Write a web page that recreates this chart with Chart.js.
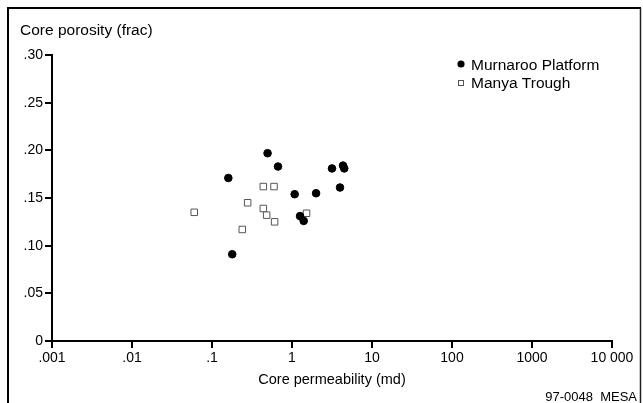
<!DOCTYPE html>
<html>
<head>
<meta charset="utf-8">
<script src="https://cdn.jsdelivr.net/npm/chart.js@4/dist/chart.umd.min.js"></script>
<style>
  html, body { margin: 0; padding: 0; background: #fff; }
  #wrap { width: 643px; height: 403px; }
</style>
</head>
<body>
<div id="wrap"><canvas id="poroPerm" width="643" height="403"></canvas></div>
<script>
// values
const murnarooPerm = [0.16, 0.179, 0.495, 0.668, 1.08, 1.26, 1.40, 2.0, 3.16, 3.98, 4.34, 4.5];
const murnarooPoro = [0.171, 0.091, 0.197, 0.183, 0.154, 0.131, 0.126, 0.155, 0.181, 0.161, 0.184, 0.181];
const manyaPerm = [0.06, 0.239, 0.279, 0.438, 0.438, 0.482, 0.596, 0.606, 1.52];
const manyaPoro = [0.135, 0.117, 0.145, 0.162, 0.139, 0.132, 0.162, 0.125, 0.134];

const seriesNames = ['Murnaroo Platform', 'Manya Trough'];
const xTicks = [0.001, 0.01, 0.1, 1, 10, 100, 1000, 10000];
const xTickLabels = ['.001', '.01', '.1', '1', '10', '100', '1000', '10 000'];
const yTicks = [0, 0.05, 0.10, 0.15, 0.20, 0.25, 0.30];
const yTickLabels = ['0', '.05', '.10', '.15', '.20', '.25', '.30'];
const xTitle = 'Core permeability (md)';
const yTitle = 'Core porosity (frac)';
const footNote = '97-0048  MESA';

const FONT = '"Liberation Sans", Arial, Helvetica, sans-serif';

const toPoints = (xs, ys) => xs.map((x, i) => ({ x: x, y: ys[i] }));

// frame, y title, legend, footnote
const extras = {
    id: 'extras',
    beforeDraw(chart) {
        const ctx = chart.ctx;
        ctx.save();
        ctx.fillStyle = '#fff';
        ctx.fillRect(0, 0, chart.width, chart.height);
        ctx.restore();
    },
    afterDraw(chart) {
        const ctx = chart.ctx;
        ctx.save();
        ctx.strokeStyle = '#000';
        ctx.lineWidth = 2;
        ctx.beginPath();
        ctx.moveTo(8, 403);
        ctx.lineTo(8, 8);
        ctx.lineTo(641, 8);
        ctx.stroke();
        ctx.lineWidth = 1.5;
        ctx.strokeStyle = '#222';
        ctx.beginPath();
        ctx.moveTo(640.5, 8);
        ctx.lineTo(640.5, 403);
        ctx.stroke();

        ctx.fillStyle = '#000';
        ctx.textBaseline = 'alphabetic';
        ctx.textAlign = 'left';
        ctx.font = '15.5px ' + FONT;
        ctx.fillText(yTitle, 20, 35);

        // legend
        const ds = chart.data.datasets;
        ctx.font = '15.5px ' + FONT;
        ctx.fillText(ds[0].label, 471, 69.5);
        ctx.fillText(ds[1].label, 471, 88);
        ctx.beginPath();
        ctx.arc(461, 64, 3.6, 0, Math.PI * 2);
        ctx.fillStyle = '#000';
        ctx.fill();
        ctx.fillStyle = '#fff';
        ctx.strokeStyle = '#555';
        ctx.lineWidth = 1;
        ctx.fillRect(458, 80, 6, 6);
        ctx.strokeRect(458.5, 80.5, 5, 5);

        ctx.fillStyle = '#000';
        ctx.textAlign = 'right';
        ctx.font = '13px ' + FONT;
        ctx.fillText(footNote, 637, 401);
        ctx.restore();
    }
};

new Chart(document.getElementById('poroPerm'), {
    type: 'scatter',
    data: {
        datasets: [
            {
                label: seriesNames[0],
                data: toPoints(murnarooPerm, murnarooPoro),
                pointStyle: 'circle',
                pointRadius: 3.8,
                pointBorderWidth: 1,
                backgroundColor: '#000',
                borderColor: '#000'
            },
            {
                label: seriesNames[1],
                data: toPoints(manyaPerm, manyaPoro),
                pointStyle: 'rect',
                pointRadius: 4.6,
                pointBorderWidth: 1,
                backgroundColor: '#fff',
                borderColor: '#555'
            }
        ]
    },
    options: {
        responsive: false,
        animation: false,
        devicePixelRatio: 1,
        layout: { padding: { left: 0, top: 55, right: 31, bottom: 0 } },
        plugins: {
            legend: { display: false },
            tooltip: { enabled: false }
        },
        scales: {
            x: {
                type: 'logarithmic',
                min: 0.001,
                max: 10000,
                afterBuildTicks: s => { s.ticks = xTicks.map(v => ({ value: v })); },
                afterFit: s => { s.height = 62; },
                border: { display: true, color: '#000', width: 2 },
                grid: { display: true, drawOnChartArea: false, drawTicks: true, tickLength: 7, color: '#000', lineWidth: 2 },
                ticks: {
                    autoSkip: false,
                    maxRotation: 0,
                    padding: 2,
                    color: '#000',
                    font: { family: FONT, size: 14 },
                    callback: (v, i) => xTickLabels[i]
                },
                title: {
                    display: true,
                    text: xTitle,
                    color: '#000',
                    font: { family: FONT, size: 14.5 },
                    padding: { top: 0, bottom: 14 }
                }
            },
            y: {
                min: 0,
                max: 0.3,
                afterBuildTicks: s => { s.ticks = yTicks.map(v => ({ value: v })); },
                afterFit: s => { s.width = 52; },
                border: { display: true, color: '#000', width: 2 },
                grid: { display: true, drawOnChartArea: false, drawTicks: true, tickLength: 7, color: '#000', lineWidth: 2 },
                ticks: {
                    padding: 2,
                    color: '#000',
                    font: { family: FONT, size: 14 },
                    callback: (v, i) => yTickLabels[i]
                }
            }
        }
    },
    plugins: [extras]
});
</script>
</body>
</html>
